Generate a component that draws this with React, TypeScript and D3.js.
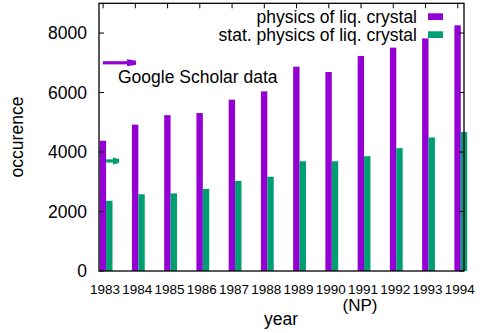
import React from 'react';
import * as d3 from 'd3';

const years = ['1983', '1984', '1985', '1986', '1987', '1988', '1989', '1990', '1991', '1992', '1993', '1994'];
const physics = [4380, 4920, 5240, 5310, 5760, 6040, 6870, 6690, 7230, 7510, 7820, 8260];
const statPhysics = [2360, 2580, 2610, 2760, 3030, 3170, 3690, 3690, 3860, 4130, 4490, 4670];
const yTicks = [0, 2000, 4000, 6000, 8000];
const seriesNames = ['physics of liq. crystal', 'stat. physics of liq. crystal'];
const colors = ['#9400d3', '#009e73'];
// arrows in data coords: [x0 index, x1 index, y value, color index]
const arrows = [
  { x0: -0.1, x1: 0.93, y: 7000, c: 0 },
  { x0: 0, x1: 0.4, y: 3700, c: 1 },
];

const W = 482;
const H = 333;
const left = 99, right = 464, top = 3.3, bottom = 271;
const font = '"Liberation Sans", Arial, Helvetica, sans-serif';

export default function App() {
  const x = d3.scaleLinear().domain([-0.22, 11.1]).range([left, right]);
  const y = d3.scaleLinear().domain([0, 9000]).range([bottom, top]);
  const bw = 6.4;

  const arrowPath = (a: typeof arrows[0]) => {
    const x0 = x(a.x0), x1 = x(a.x1), yy = y(a.y);
    return { x0, x1, yy };
  };

  return (
    <svg width={W} height={H} style={{ position: 'absolute', left: 0, top: 0 }} fontFamily={font}>
      <rect width={W} height={H} fill="#fff" />
      {/* bars */}
      {years.map((yr, i) => (
        <g key={yr}>
          <rect x={x(i) - bw} y={y(physics[i])} width={bw} height={bottom - y(physics[i])} fill={colors[0]} />
          <rect x={x(i)} y={y(statPhysics[i])} width={bw} height={bottom - y(statPhysics[i])} fill={colors[1]} />
        </g>
      ))}
      {/* arrows */}
      {arrows.map((a, k) => {
        const p = arrowPath(a);
        const hl = a.c === 0 ? 8 : 5;
        return (
          <g key={k} fill={colors[a.c]} stroke={colors[a.c]}>
            <line x1={p.x0} x2={p.x1 - hl} y1={p.yy} y2={p.yy} strokeWidth={3.2} />
            <path d={`M${p.x1 - hl - 1},${p.yy - 3.5} L${p.x1},${p.yy - 2} L${p.x1},${p.yy + 2} L${p.x1 - hl - 1},${p.yy + 3.5} Z`} stroke="none" />
          </g>
        );
      })}
      {/* frame */}
      <rect x={left} y={top} width={right - left} height={bottom - top} fill="none" stroke="#000" strokeWidth={1.3} />
      {/* y ticks */}
      {yTicks.map((t) => (
        <g key={t}>
          <line x1={left} x2={left + 5} y1={y(t)} y2={y(t)} stroke="#000" />
          <line x1={right - 5} x2={right} y1={y(t)} y2={y(t)} stroke="#000" />
          <text x={87} y={y(t) + 6.3} fontSize={17.5} textAnchor="end" fill="#000">{t}</text>
        </g>
      ))}
      {/* x ticks */}
      {years.map((yr, i) => (
        <g key={yr}>
          <line x1={x(i) - 3} x2={x(i) - 3} y1={top} y2={top + 5} stroke="#000" />
          <text x={x(i) - 1} y={294} fontSize={13.5} textAnchor="middle" fill="#000">{yr}</text>
        </g>
      ))}
      <text x={x(8) - 4} y={311} fontSize={17} textAnchor="middle" fill="#000">(NP)</text>
      {/* axis titles */}
      <text x={281} y={325} fontSize={17.5} textAnchor="middle" fill="#000">year</text>
      <text transform="translate(23,137) rotate(-90)" fontSize={17.5} textAnchor="middle" fill="#000">occurence</text>
      {/* label */}
      <text x={118} y={83} fontSize={17.5} fill="#000">Google Scholar data</text>
      {/* legend */}
      {seriesNames.map((s, i) => (
        <g key={s}>
          <text x={417} y={23 + i * 18} fontSize={17.5} textAnchor="end" fill="#000">{s}</text>
          <rect x={428} y={13.3 + i * 18} width={15} height={6.7} fill={colors[i]} />
        </g>
      ))}
    </svg>
  );
}
